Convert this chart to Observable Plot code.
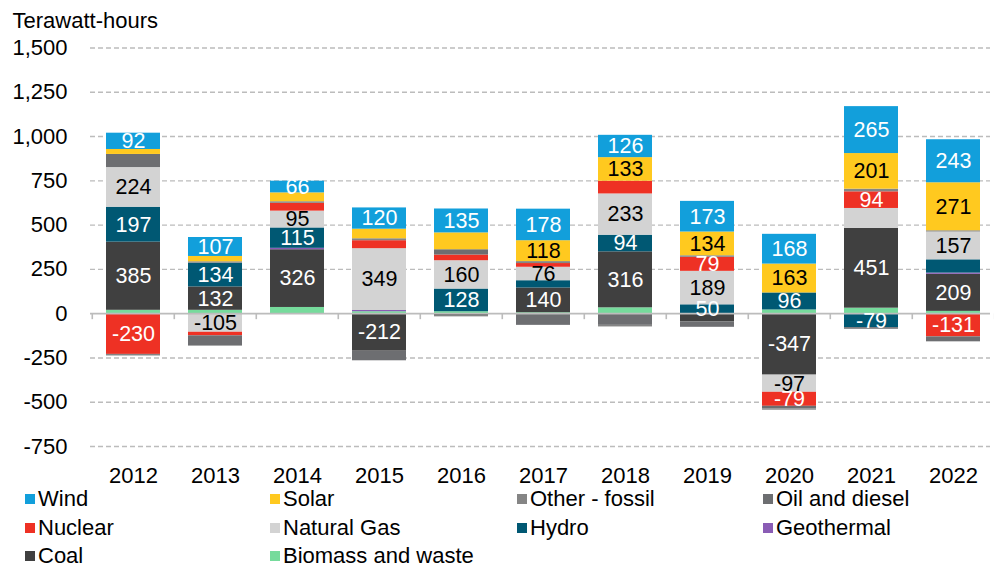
<!DOCTYPE html>
<html><head><meta charset="utf-8">
<script src="https://cdn.jsdelivr.net/npm/d3@7"></script>
<script src="https://cdn.jsdelivr.net/npm/@observablehq/plot@0.6"></script>
<style>
body{margin:0;background:#fff;font-family:"Liberation Sans",Arial,sans-serif;}
#legend{display:grid;grid-template-columns:245px 247px 246px 220px;padding-left:25px;font-size:22px;line-height:28.5px;color:#000;}
.item{display:flex;align-items:center;white-space:nowrap;}
.sw{width:10px;height:10px;margin-right:3px;flex:none;}
</style></head><body><div id="chart"></div><div id="legend"></div>
<script>
const years = ["2012","2013","2014","2015","2016","2017","2018","2019","2020","2021","2022"];
// stack order, bottom to top
const stackSources = ["Biomass and waste","Coal","Geothermal","Hydro","Natural Gas","Nuclear","Oil and diesel","Other - fossil","Solar","Wind"];
const stackColors  = ["#76db9c","#404040","#8a5cb5","#005873","#d3d3d3","#ee3124","#6d6e71","#858585","#ffc91f","#129fdb"];
const legendOrder = ["Wind","Solar","Other - fossil","Oil and diesel","Nuclear","Natural Gas","Hydro","Geothermal","Coal","Biomass and waste"];

const biomass     = [19, 19, 35, 11, 11, 5, 33, 0, 21, 31, 13];
const coal        = [385, 132, 326, -212, -10, 140, 316, -47, -347, 451, 209];
const geothermal  = [0, 0, 8, 7, 0, 0, 0, 0, 0, 0, 7];
const hydro       = [197, 134, 115, 0, 128, 41, 94, 50, 96, -79, 75];
const gas         = [224, -105, 95, 349, 160, 76, 233, 189, -97, 112, 157];
const nuclear     = [-230, -20, 44, 45, 32, 21, 72, 79, -79, 94, -131];
const oil         = [74, -58, 0, -54, 30, -66, -66, -30, -14, -9, -28];
const otherFossil = [-9, 8, 9, 11, -8, 11, -9, 9, -8, 15, 7];
const solar       = [28, 30, 50, 54, 95, 118, 133, 134, 163, 201, 271];
const wind        = [92, 107, 66, 120, 135, 178, 126, 173, 168, 265, 243];

const labeledPoints = [
  ["2012","Wind"],["2012","Natural Gas"],["2012","Hydro"],["2012","Coal"],["2012","Nuclear"],
  ["2013","Wind"],["2013","Hydro"],["2013","Coal"],["2013","Natural Gas"],
  ["2014","Wind"],["2014","Natural Gas"],["2014","Hydro"],["2014","Coal"],
  ["2015","Wind"],["2015","Natural Gas"],["2015","Coal"],
  ["2016","Wind"],["2016","Natural Gas"],["2016","Hydro"],
  ["2017","Wind"],["2017","Solar"],["2017","Natural Gas"],["2017","Coal"],
  ["2018","Wind"],["2018","Solar"],["2018","Natural Gas"],["2018","Hydro"],["2018","Coal"],
  ["2019","Wind"],["2019","Solar"],["2019","Nuclear"],["2019","Natural Gas"],["2019","Hydro"],
  ["2020","Wind"],["2020","Solar"],["2020","Hydro"],["2020","Coal"],["2020","Natural Gas"],["2020","Nuclear"],
  ["2021","Wind"],["2021","Solar"],["2021","Nuclear"],["2021","Coal"],["2021","Hydro"],
  ["2022","Wind"],["2022","Solar"],["2022","Natural Gas"],["2022","Coal"],["2022","Nuclear"]
];
const whiteLabelSources = ["Wind","Hydro","Coal","Nuclear"];
const yTicks = [-750,-500,-250,0,250,500,750,1000,1250,1500];
const yLabel = "Terawatt-hours";

const seriesValues = [biomass, coal, geothermal, hydro, gas, nuclear, oil, otherFossil, solar, wind];
const labeledSet = new Set(labeledPoints.map(d => d[0] + "|" + d[1]));
const whiteSet = new Set(whiteLabelSources);
const data = years.flatMap((yr, i) => stackSources.map((s, k) => ({
  year: yr, source: s, value: seriesValues[k][i],
  label: labeledSet.has(yr + "|" + s) ? String(seriesValues[k][i]) : ""
})));

const W = 994, H = 485, mT = 47.5, mB = 39, mL = 90;
const xRange = [90, 997];
const step = (xRange[1] - xRange[0]) / years.length;
const pxPerUnit = (H - mT - mB) / (yTicks[yTicks.length-1] - yTicks[0]);
const tickUnits = 6 / pxPerUnit;
const font = "Liberation Sans, Arial, sans-serif";

const chart = Plot.plot({
  width: W, height: H,
  marginTop: mT, marginBottom: mB, marginLeft: mL, marginRight: 4,
  style: {fontFamily: font, fontSize: "22px", color: "#000", background: "#fff", overflow: "visible"},
  x: {domain: years, range: xRange, paddingInner: 0.34, paddingOuter: 0.17, tickSize: 0, tickPadding: 20.5, label: null},
  y: {domain: [yTicks[0], yTicks[yTicks.length-1]], ticks: yTicks, tickSize: 0, tickPadding: 23, label: null,
      tickFormat: d => d.toLocaleString("en-US")},
  color: {domain: stackSources, range: stackColors},
  marks: [
    Plot.ruleY(yTicks.filter(d => d !== 0), {stroke: "#bcbcbc", strokeWidth: 1.4, strokeDasharray: "5,3"}),
    Plot.barY(data, {x: "year", y: "value", z: "source", fill: "source"}),
    Plot.ruleY([0], {stroke: "#bcbcbc", strokeWidth: 1.6}),
    Plot.ruleX(years, {x: d => d, dx: -step/2, y1: 0, y2: -tickUnits, stroke: "#bcbcbc", strokeWidth: 1.6}),
    Plot.ruleX(years.slice(-1), {x: d => d, dx: step/2, y1: 0, y2: -tickUnits, stroke: "#bcbcbc", strokeWidth: 1.6}),
    Plot.text(data, Plot.stackY({x: "year", y: "value", z: "source",
      text: d => whiteSet.has(d.source) ? d.label : "", fill: "#ffffff", fontSize: 21.5, fontFamily: font})),
    Plot.text(data, Plot.stackY({x: "year", y: "value", z: "source",
      text: d => whiteSet.has(d.source) ? "" : d.label, fill: "#000000", fontSize: 21.5, fontFamily: font})),
    Plot.text([yLabel], {text: d => d, frameAnchor: "top-left", dx: -78, dy: -36, textAnchor: "start",
      fontSize: 22, fontFamily: font, fill: "#000"})
  ]
});
document.getElementById("chart").appendChild(chart);

const colorOf = Object.fromEntries(stackSources.map((s, i) => [s, stackColors[i]]));
const legend = document.getElementById("legend");
legendOrder.forEach(s => {
  const item = document.createElement("div");
  item.className = "item";
  const sw = document.createElement("span");
  sw.className = "sw";
  sw.style.background = colorOf[s];
  const t = document.createElement("span");
  t.textContent = s;
  item.appendChild(sw); item.appendChild(t);
  legend.appendChild(item);
});
</script></body></html>
